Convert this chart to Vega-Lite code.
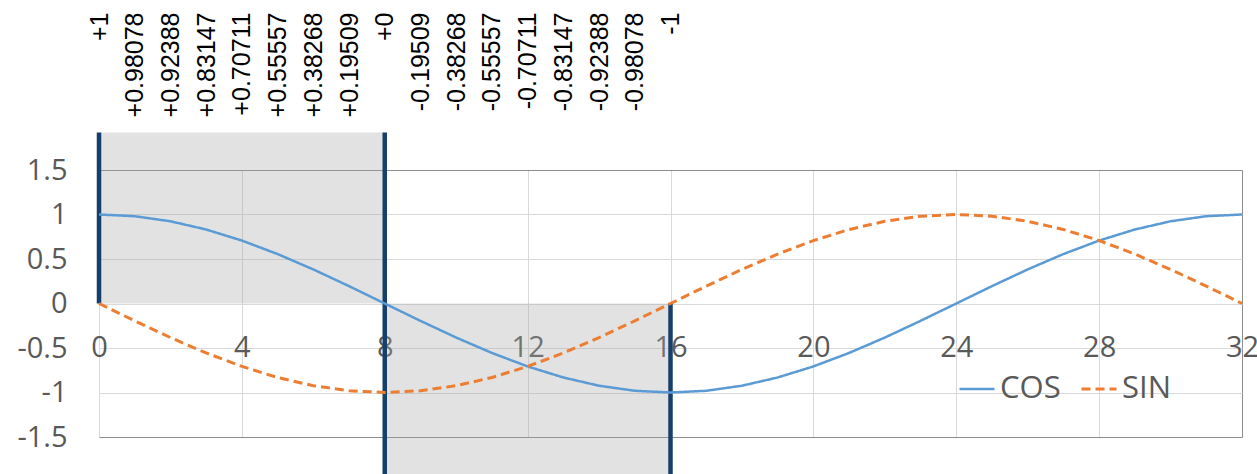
{
  "$schema": "https://vega.github.io/schema/vega-lite/v6.json",
  "width": 1143,
  "height": 267,
  "autosize": {"type": "none"},
  "padding": {"left": 99, "top": 170, "right": 15, "bottom": 37},
  "background": "white",
  "config": {
    "view": {"stroke": null},
    "axis": {
      "labelFont": "Open Sans",
      "labelFontSize": 29,
      "labelColor": "#595959",
      "ticks": false,
      "domain": false,
      "title": null,
      "labelFlush": false,
      "labelOverlap": false,
      "labelBound": false
    }
  },
  "datasets": {
    "bands": [
      {"start": 0, "end": 8, "low": 0, "high": 1.92},
      {"start": 8, "end": 16, "low": 0, "high": -1.92}
    ],
    "waves": [
      {"k": 0, "series": "COS", "value": 1},
      {"k": 1, "series": "COS", "value": 0.98078},
      {"k": 2, "series": "COS", "value": 0.92388},
      {"k": 3, "series": "COS", "value": 0.83147},
      {"k": 4, "series": "COS", "value": 0.70711},
      {"k": 5, "series": "COS", "value": 0.55557},
      {"k": 6, "series": "COS", "value": 0.38268},
      {"k": 7, "series": "COS", "value": 0.19509},
      {"k": 8, "series": "COS", "value": 0},
      {"k": 9, "series": "COS", "value": -0.19509},
      {"k": 10, "series": "COS", "value": -0.38268},
      {"k": 11, "series": "COS", "value": -0.55557},
      {"k": 12, "series": "COS", "value": -0.70711},
      {"k": 13, "series": "COS", "value": -0.83147},
      {"k": 14, "series": "COS", "value": -0.92388},
      {"k": 15, "series": "COS", "value": -0.98078},
      {"k": 16, "series": "COS", "value": -1},
      {"k": 17, "series": "COS", "value": -0.98078},
      {"k": 18, "series": "COS", "value": -0.92388},
      {"k": 19, "series": "COS", "value": -0.83147},
      {"k": 20, "series": "COS", "value": -0.70711},
      {"k": 21, "series": "COS", "value": -0.55557},
      {"k": 22, "series": "COS", "value": -0.38268},
      {"k": 23, "series": "COS", "value": -0.19509},
      {"k": 24, "series": "COS", "value": 0},
      {"k": 25, "series": "COS", "value": 0.19509},
      {"k": 26, "series": "COS", "value": 0.38268},
      {"k": 27, "series": "COS", "value": 0.55557},
      {"k": 28, "series": "COS", "value": 0.70711},
      {"k": 29, "series": "COS", "value": 0.83147},
      {"k": 30, "series": "COS", "value": 0.92388},
      {"k": 31, "series": "COS", "value": 0.98078},
      {"k": 32, "series": "COS", "value": 1},
      {"k": 0, "series": "SIN", "value": 0},
      {"k": 1, "series": "SIN", "value": -0.19509},
      {"k": 2, "series": "SIN", "value": -0.38268},
      {"k": 3, "series": "SIN", "value": -0.55557},
      {"k": 4, "series": "SIN", "value": -0.70711},
      {"k": 5, "series": "SIN", "value": -0.83147},
      {"k": 6, "series": "SIN", "value": -0.92388},
      {"k": 7, "series": "SIN", "value": -0.98078},
      {"k": 8, "series": "SIN", "value": -1},
      {"k": 9, "series": "SIN", "value": -0.98078},
      {"k": 10, "series": "SIN", "value": -0.92388},
      {"k": 11, "series": "SIN", "value": -0.83147},
      {"k": 12, "series": "SIN", "value": -0.70711},
      {"k": 13, "series": "SIN", "value": -0.55557},
      {"k": 14, "series": "SIN", "value": -0.38268},
      {"k": 15, "series": "SIN", "value": -0.19509},
      {"k": 16, "series": "SIN", "value": 0},
      {"k": 17, "series": "SIN", "value": 0.19509},
      {"k": 18, "series": "SIN", "value": 0.38268},
      {"k": 19, "series": "SIN", "value": 0.55557},
      {"k": 20, "series": "SIN", "value": 0.70711},
      {"k": 21, "series": "SIN", "value": 0.83147},
      {"k": 22, "series": "SIN", "value": 0.92388},
      {"k": 23, "series": "SIN", "value": 0.98078},
      {"k": 24, "series": "SIN", "value": 1},
      {"k": 25, "series": "SIN", "value": 0.98078},
      {"k": 26, "series": "SIN", "value": 0.92388},
      {"k": 27, "series": "SIN", "value": 0.83147},
      {"k": 28, "series": "SIN", "value": 0.70711},
      {"k": 29, "series": "SIN", "value": 0.55557},
      {"k": 30, "series": "SIN", "value": 0.38268},
      {"k": 31, "series": "SIN", "value": 0.19509},
      {"k": 32, "series": "SIN", "value": 0}
    ]
  },
  "layer": [
    {
      "data": {"name": "bands"},
      "mark": {"type": "rect", "fill": "#a6a6a6", "opacity": 0.33, "clip": false},
      "encoding": {
        "x": {
          "field": "start", "type": "quantitative",
          "scale": {"domain": [0, 32], "nice": false, "zero": false},
          "axis": {
            "orient": "top",
            "values": [0, 1, 2, 3, 4, 5, 6, 7, 8, 9, 10, 11, 12, 13, 14, 15, 16],
            "labelExpr": "['+1','+0.98078','+0.92388','+0.83147','+0.70711','+0.55557','+0.38268','+0.19509','+0','-0.19509','-0.38268','-0.55557','-0.70711','-0.83147','-0.92388','-0.98078','-1'][datum.value]",
            "labelAngle": -90,
            "labelAlign": "right",
            "labelBaseline": "middle",
            "labelPadding": 158,
            "labelFont": "Liberation Sans",
            "labelFontSize": 25,
            "labelColor": "#000000",
            "grid": false
          }
        },
        "x2": {"field": "end"},
        "y": {
          "field": "low", "type": "quantitative",
          "scale": {"domain": [-1.5, 1.5], "nice": false, "zero": false},
          "axis": null
        },
        "y2": {"field": "high"}
      }
    },
    {
      "data": {"name": "bands"},
      "mark": {"type": "rule", "color": "#173f6b", "strokeWidth": 4.5, "clip": false},
      "encoding": {
        "x": {"field": "start", "type": "quantitative", "scale": {"domain": [0, 32], "nice": false, "zero": false}, "axis": null},
        "y": {"field": "low", "type": "quantitative", "scale": {"domain": [-1.5, 1.5], "nice": false, "zero": false}, "axis": null},
        "y2": {"field": "high"}
      }
    },
    {
      "data": {"name": "bands"},
      "mark": {"type": "rule", "color": "#173f6b", "strokeWidth": 4.5, "clip": false},
      "encoding": {
        "x": {"field": "end", "type": "quantitative", "scale": {"domain": [0, 32], "nice": false, "zero": false}, "axis": null},
        "y": {"field": "low", "type": "quantitative", "scale": {"domain": [-1.5, 1.5], "nice": false, "zero": false}, "axis": null},
        "y2": {"field": "high"}
      }
    },
    {
      "data": {"name": "waves"},
      "mark": {"type": "line", "clip": false},
      "encoding": {
        "x": {
          "field": "k", "type": "quantitative",
          "scale": {"domain": [0, 32], "nice": false, "zero": false},
          "axis": {
            "orient": "bottom",
            "values": [0, 4, 8, 12, 16, 20, 24, 28, 32],
            "offset": -133.5,
            "labelPadding": 44,
            "labelBaseline": "middle",
            "grid": true,
            "gridColor": {"condition": {"test": "datum.value === 32", "value": "#8c8c8c"}, "value": "#d9d9d9"}
          }
        },
        "y": {
          "field": "value", "type": "quantitative",
          "scale": {"domain": [-1.5, 1.5], "nice": false, "zero": false},
          "axis": {
            "orient": "left",
            "values": [-1.5, -1, -0.5, 0, 0.5, 1, 1.5],
            "labelExpr": "'' + datum.value",
            "labelPadding": 32,
            "grid": true,
            "gridColor": {"condition": {"test": "abs(datum.value) === 1.5", "value": "#8c8c8c"}, "value": "#d9d9d9"}
          }
        },
        "color": {
          "field": "series", "type": "nominal",
          "scale": {"domain": ["COS", "SIN"], "range": ["#5b9bd5", "#ed7d31"]},
          "legend": {
            "title": null,
            "orient": "none",
            "legendX": 859,
            "legendY": 200,
            "direction": "horizontal",
            "symbolType": "stroke",
            "symbolSize": 1225,
            "symbolStrokeWidth": 2.8,
            "labelFont": "Open Sans",
            "labelFontSize": 31,
            "labelColor": "#595959",
            "labelOffset": 4,
            "columnPadding": 14
          }
        },
        "strokeDash": {
          "field": "series", "type": "nominal",
          "scale": {"domain": ["COS", "SIN"], "range": [[1, 0], [9, 5]]},
          "legend": {
            "title": null,
            "orient": "none",
            "legendX": 859,
            "legendY": 200,
            "direction": "horizontal",
            "symbolType": "stroke",
            "symbolSize": 1225,
            "symbolStrokeWidth": 2.8,
            "labelFont": "Open Sans",
            "labelFontSize": 31,
            "labelColor": "#595959",
            "labelOffset": 4,
            "columnPadding": 14
          }
        },
        "strokeWidth": {
          "field": "series", "type": "nominal",
          "scale": {"domain": ["COS", "SIN"], "range": [2.5, 3]},
          "legend": null
        }
      }
    }
  ],
  "resolve": {"axis": {"x": "independent", "y": "independent"}}
}
